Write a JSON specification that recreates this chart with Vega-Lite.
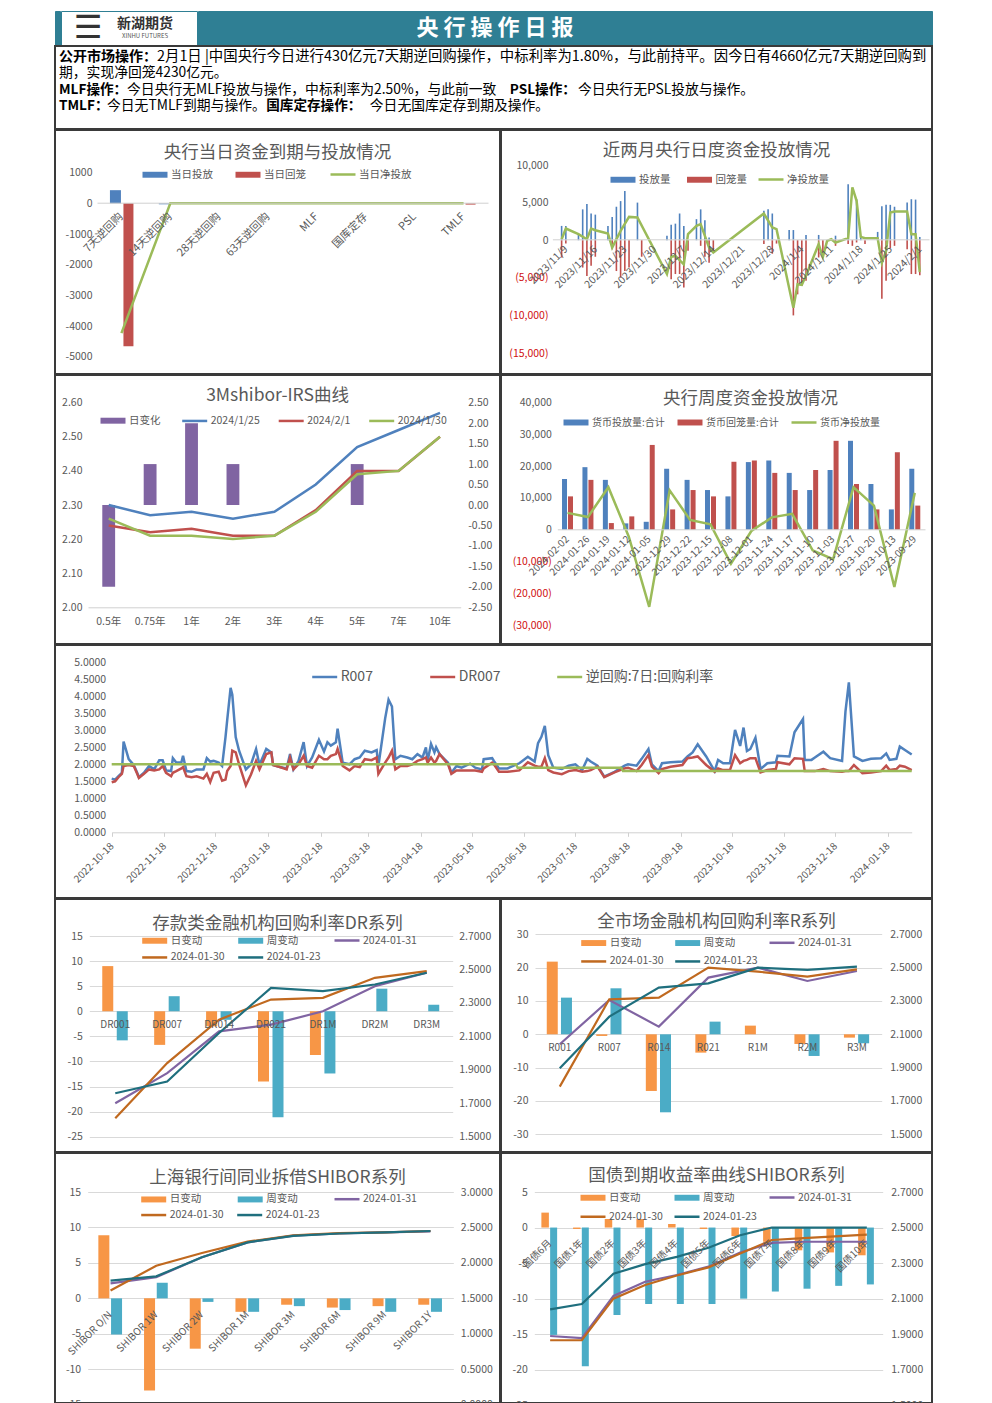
{"$schema":"https://vega.github.io/schema/vega-lite/v6.json","padding":{"left":54,"top":10,"right":0,"bottom":0},"spacing":-3,"resolve":{"scale":{"fill":"independent","stroke":"independent","color":"independent"},"legend":{"fill":"independent","stroke":"independent","color":"independent"}},"config":{"font":"Noto Sans CJK SC","view":{"stroke":"#3a3a3a","strokeWidth":2},"axis":{"grid":false,"ticks":false,"domain":false,"labelColor":"#595959","labelFontSize":10,"labelOverlap":false,"labelBound":false,"labelFlush":false,"gridColor":"#D9D9D9","domainColor":"#D0D0D0"},"legend":{"padding":0,"labelColor":"#595959","labelFontSize":10.5,"labelOffset":6,"symbolSize":289,"symbolStrokeWidth":2.5,"orient":"none","direction":"horizontal","title":null,"labelLimit":300},"title":{"fontWeight":"normal","color":"#595959","fontSize":17.5,"anchor":"middle","frame":"group","baseline":"middle"}},
"vconcat":[
{"hconcat":[
{"width":5,"height":34,"view":{"fill":"#2F7F94","stroke":"#2F7F94"},"data":{"values":[{"t":" "}]},"mark":{"type":"text"},"encoding":{"text":{"field":"t"}}},
{"width":136,"height":34,"view":{"fill":"#FFFFFF","stroke":"#2F7F94"},"data":{"values":[{"a":"新湖期货","b":"XINHU FUTURES","c":"☰"}]},"layer":[
{"mark":{"type":"text","fontSize":14,"fontWeight":"bold","color":"#333333","dx":16,"dy":-4},"encoding":{"text":{"field":"a"}}},
{"mark":{"type":"text","fontSize":6,"color":"#555555","dx":16,"dy":8},"encoding":{"text":{"field":"b"}}},
{"mark":{"type":"text","fontSize":32,"font":"DejaVu Sans","color":"#333333","dx":-41,"dy":0},"encoding":{"text":{"field":"c"}}}]},
{"width":734,"height":34,"view":{"fill":"#2F7F94","stroke":"#2F7F94"},"data":{"values":[{"t":"央 行 操 作 日 报"}]},"mark":{"type":"text","fontSize":22,"fontWeight":"bold","color":"#FFFFFF","dx":-70},"encoding":{"text":{"field":"t"}}}
],"spacing":-3},
{"width":877,"height":83,"encoding":{"x":{"field":"em","type":"quantitative","scale":{"domain":[0,62],"range":[4,872],"nice":false,"zero":false},"axis":null},"y":{"field":"line","type":"ordinal","scale":{"type":"point","domain":[1,2,3,4],"range":[11,60],"padding":0},"axis":null},"text":{"field":"t"}},
"layer":[
{"data":{"values":[{"line":1,"em":0,"t":"公开市场操作\uff1a"}]},"mark":{"type":"text","align":"left","fontSize":14,"fontWeight":"bold","color":"#000000"}},
{"data":{"values":[{"line":1,"em":7,"t":"2月1日 |中国央行今日进行430亿元7天期逆回购操作\uff0c中标利率为1.80%\uff0c与此前持平。因今日有4660亿元7天期逆回购到"}]},"mark":{"type":"text","align":"left","fontSize":14.4,"color":"#000000"}},
{"data":{"values":[{"line":3,"em":0,"t":"MLF操作\uff1a"},{"line":3,"em":32.2,"t":"PSL操作\uff1a"},{"line":4,"em":0,"t":"TMLF\uff1a"},{"line":4,"em":14.8,"t":"国库定存操作\uff1a"}]},"mark":{"type":"text","align":"left","fontSize":13.6,"fontWeight":"bold","color":"#000000"}},
{"data":{"values":[{"line":2,"em":0,"t":"期\uff0c实现净回笼4230亿元。"},{"line":3,"em":4.86,"t":"今日央行无MLF投放与操作\uff0c中标利率为2.50%\uff0c与此前一致"},{"line":3,"em":37.07,"t":"今日央行无PSL投放与操作。"},{"line":4,"em":3.43,"t":"今日无TMLF到期与操作。"},{"line":4,"em":22.2,"t":"今日无国库定存到期及操作。"}]},"mark":{"type":"text","align":"left","fontSize":13.8,"color":"#000000"}}
]},
{"hconcat":[
{"width":445,"height":244,"title":{"text":"央行当日资金到期与投放情况","offset":-31},
"data":{"values":[{"c":"7天逆回购","当日投放":430,"当日回笼":-4660,"当日净投放":-4230},{"c":"14天逆回购","当日投放":-30,"当日回笼":0,"当日净投放":0},{"c":"28天逆回购","当日投放":0,"当日回笼":0,"当日净投放":0},{"c":"63天逆回购","当日投放":0,"当日回笼":0,"当日净投放":0},{"c":"MLF","当日投放":0,"当日回笼":0,"当日净投放":0},{"c":"国库定存","当日投放":0,"当日回笼":0,"当日净投放":0},{"c":"PSL","当日投放":0,"当日回笼":0,"当日净投放":0},{"c":"TMLF","当日投放":0,"当日回笼":-40,"当日净投放":0}]},
"encoding":{"x":{"field":"c","type":"nominal","sort":null,"scale":{"type":"band","domain":["7天逆回购","14天逆回购","28天逆回购","63天逆回购","MLF","国库定存","PSL","TMLF"],"range":[42,433],"paddingInner":0.5,"paddingOuter":0.25},"axis":{"title":null,"orient":"bottom","offset":-171.3,"domain":true,"labelAngle":-45,"labelAlign":"right","labelBaseline":"middle","labelPadding":12,"zindex":1,"labelFontSize":11}},"y":{"field":"value","type":"quantitative","stack":null,"scale":{"domain":[-5000,1000],"range":[226.7,42.7],"nice":false},"axis":{"title":null,"orient":"left","offset":-42,"labelPadding":5,"values":[1000,0,-1000,-2000,-3000,-4000,-5000],"labelExpr":"toString(datum.value)","labelFontSize":10.5}}},
"layer":[
{"transform":[{"fold":["当日投放"]}],"mark":{"type":"bar","width":11,"xOffset":-6},"encoding":{"fill":{"field":"key","type":"nominal","scale":{"domain":["当日投放","当日回笼"],"range":["#4F81BD","#C0504D"]},"legend":{"legendX":90,"legendY":34.5,"columnPadding":22,"symbolType":"M-1.47,-.35H1.47V.35H-1.47Z"}}}},
{"transform":[{"fold":["当日回笼"]}],"mark":{"type":"bar","width":10,"xOffset":7},"encoding":{"fill":{"field":"key","type":"nominal","scale":{"domain":["当日投放","当日回笼"],"range":["#4F81BD","#C0504D"]},"legend":{"legendX":90,"legendY":34.5,"columnPadding":22,"symbolType":"M-1.47,-.35H1.47V.35H-1.47Z"}}}},
{"transform":[{"fold":["当日净投放"]}],"mark":{"type":"line","strokeWidth":2.5},"encoding":{"stroke":{"field":"key","type":"nominal","scale":{"domain":["当日净投放"],"range":["#9BBB59"]},"legend":{"legendX":278,"legendY":34.5,"symbolType":"M-1.47,0H1.47"}}}}
]},
{"width":431,"height":244,"title":{"text":"近两月央行日度资金投放情况","offset":-29},
"encoding":{"x":{"field":"d","type":"temporal","scale":{"type":"utc","domain":[{"year":2023,"month":11,"date":7,"utc":true},{"year":2024,"month":2,"date":2,"utc":true}],"range":[51.4,428],"nice":false},"axis":{"title":null,"orient":"bottom","offset":-134.7,"domain":true,"format":"%Y/%-m/%-d","labelAngle":-45,"labelAlign":"right","labelBaseline":"middle","labelPadding":8,"zindex":1,"labelFontSize":10.5,"values":[{"year":2023,"month":11,"date":9,"utc":true},{"year":2023,"month":11,"date":16,"utc":true},{"year":2023,"month":11,"date":23,"utc":true},{"year":2023,"month":11,"date":30,"utc":true},{"year":2023,"month":12,"date":7,"utc":true},{"year":2023,"month":12,"date":14,"utc":true},{"year":2023,"month":12,"date":21,"utc":true},{"year":2023,"month":12,"date":28,"utc":true},{"year":2024,"month":1,"date":4,"utc":true},{"year":2024,"month":1,"date":11,"utc":true},{"year":2024,"month":1,"date":18,"utc":true},{"year":2024,"month":1,"date":25,"utc":true},{"year":2024,"month":2,"date":1,"utc":true}]}}},
"layer":[
{"data":{"values":[{"d":"2023-11-08","s":"投放量","v":1900},{"d":"2023-11-09","s":"投放量","v":1900},{"d":"2023-11-12","s":"投放量","v":800},{"d":"2023-11-13","s":"投放量","v":4100},{"d":"2023-11-14","s":"投放量","v":4800},{"d":"2023-11-15","s":"投放量","v":3550},{"d":"2023-11-16","s":"投放量","v":3400},{"d":"2023-11-19","s":"投放量","v":1900},{"d":"2023-11-20","s":"投放量","v":3100},{"d":"2023-11-21","s":"投放量","v":4450},{"d":"2023-11-22","s":"投放量","v":5200},{"d":"2023-11-23","s":"投放量","v":6550},{"d":"2023-11-26","s":"投放量","v":5000},{"d":"2023-12-03","s":"投放量","v":580},{"d":"2023-12-04","s":"投放量","v":2050},{"d":"2023-12-05","s":"投放量","v":2200},{"d":"2023-12-06","s":"投放量","v":3550},{"d":"2023-12-07","s":"投放量","v":1900},{"d":"2023-12-10","s":"投放量","v":2800},{"d":"2023-12-11","s":"投放量","v":4100},{"d":"2023-12-12","s":"投放量","v":2650},{"d":"2023-12-13","s":"投放量","v":360},{"d":"2023-12-26","s":"投放量","v":3900},{"d":"2023-12-27","s":"投放量","v":4100},{"d":"2023-12-28","s":"投放量","v":3550},{"d":"2024-01-01","s":"投放量","v":1350},{"d":"2024-01-02","s":"投放量","v":1350},{"d":"2024-01-05","s":"投放量","v":700},{"d":"2024-01-08","s":"投放量","v":700},{"d":"2024-01-12","s":"投放量","v":600},{"d":"2024-01-15","s":"投放量","v":7450},{"d":"2024-01-17","s":"投放量","v":5450},{"d":"2024-01-18","s":"投放量","v":350},{"d":"2024-01-22","s":"投放量","v":1100},{"d":"2024-01-23","s":"投放量","v":4500},{"d":"2024-01-24","s":"投放量","v":4700},{"d":"2024-01-25","s":"投放量","v":4700},{"d":"2024-01-26","s":"投放量","v":4450},{"d":"2024-01-29","s":"投放量","v":5000},{"d":"2024-01-30","s":"投放量","v":5450},{"d":"2024-01-31","s":"投放量","v":5400},{"d":"2024-02-01","s":"投放量","v":430},
{"d":"2023-11-08","s":"回笼量","v":-2300},{"d":"2023-11-09","s":"回笼量","v":-450},{"d":"2023-11-13","s":"回笼量","v":-3640},{"d":"2023-11-14","s":"回笼量","v":-4750},{"d":"2023-11-15","s":"回笼量","v":-3400},{"d":"2023-11-16","s":"回笼量","v":-2200},{"d":"2023-11-20","s":"回笼量","v":-1200},{"d":"2023-11-21","s":"回笼量","v":-4100},{"d":"2023-11-22","s":"回笼量","v":-4970},{"d":"2023-11-23","s":"回笼量","v":-4100},{"d":"2023-11-24","s":"回笼量","v":-3640},{"d":"2023-11-27","s":"回笼量","v":-2200},{"d":"2023-12-04","s":"回笼量","v":-5200},{"d":"2023-12-05","s":"回笼量","v":-4500},{"d":"2023-12-06","s":"回笼量","v":-4500},{"d":"2023-12-07","s":"回笼量","v":-6300},{"d":"2023-12-08","s":"回笼量","v":-1400},{"d":"2023-12-11","s":"回笼量","v":-750},{"d":"2023-12-12","s":"回笼量","v":-2200},{"d":"2023-12-13","s":"回笼量","v":-3000},{"d":"2023-12-14","s":"回笼量","v":-1650},{"d":"2023-12-26","s":"回笼量","v":-500},{"d":"2023-12-28","s":"回笼量","v":-1800},{"d":"2023-12-29","s":"回笼量","v":-450},{"d":"2024-01-02","s":"回笼量","v":-10000},{"d":"2024-01-03","s":"回笼量","v":-7200},{"d":"2024-01-04","s":"回笼量","v":-6100},{"d":"2024-01-05","s":"回笼量","v":-5400},{"d":"2024-01-08","s":"回笼量","v":-2300},{"d":"2024-01-09","s":"回笼量","v":-2300},{"d":"2024-01-12","s":"回笼量","v":-750},{"d":"2024-01-15","s":"回笼量","v":-500},{"d":"2024-01-16","s":"回笼量","v":-750},{"d":"2024-01-17","s":"回笼量","v":-300},{"d":"2024-01-19","s":"回笼量","v":-500},{"d":"2024-01-23","s":"回笼量","v":-7800},{"d":"2024-01-24","s":"回笼量","v":-5400},{"d":"2024-01-25","s":"回笼量","v":-1050},{"d":"2024-01-26","s":"回笼量","v":-750},{"d":"2024-01-29","s":"回笼量","v":-1200},{"d":"2024-01-30","s":"回笼量","v":-4500},{"d":"2024-01-31","s":"回笼量","v":-4500},{"d":"2024-02-01","s":"回笼量","v":-4660}]},
"mark":{"type":"bar","size":1.6},"encoding":{"y":{"field":"v","type":"quantitative","stack":null,"scale":{"domain":[-15000,10000],"range":[223,35],"nice":false},"axis":{"title":null,"orient":"left","offset":-52,"labelPadding":5,"values":[10000,5000,0,-5000,-10000,-15000],"labelExpr":"datum.value<0?'('+format(-datum.value,',')+')':format(datum.value,',')","labelColor":{"condition":{"test":"datum.value<0","value":"#D01010"},"value":"#595959"},"labelFontSize":10.5}},"fill":{"field":"s","type":"nominal","scale":{"domain":["投放量","回笼量"],"range":["#4F81BD","#C0504D"]},"legend":{"legendX":112,"legendY":39.5,"columnPadding":15.5,"symbolType":"M-1.47,-.35H1.47V.35H-1.47Z"}}}},
{"data":{"values":[{"d":"2023-11-08","s":"净投放量","v":130},{"d":"2023-11-09","s":"净投放量","v":1550},{"d":"2023-11-12","s":"净投放量","v":800},{"d":"2023-11-14","s":"净投放量","v":130},{"d":"2023-11-15","s":"净投放量","v":1550},{"d":"2023-11-16","s":"净投放量","v":1330},{"d":"2023-11-19","s":"净投放量","v":890},{"d":"2023-11-20","s":"净投放量","v":-980},{"d":"2023-11-22","s":"净投放量","v":1240},{"d":"2023-11-24","s":"净投放量","v":3100},{"d":"2023-11-26","s":"净投放量","v":3020},{"d":"2023-12-03","s":"净投放量","v":-4500},{"d":"2023-12-04","s":"净投放量","v":-2220},{"d":"2023-12-05","s":"净投放量","v":-2090},{"d":"2023-12-07","s":"净投放量","v":-3200},{"d":"2023-12-08","s":"净投放量","v":800},{"d":"2023-12-10","s":"净投放量","v":1900},{"d":"2023-12-11","s":"净投放量","v":2130},{"d":"2023-12-13","s":"净投放量","v":-980},{"d":"2023-12-14","s":"净投放量","v":-1650},{"d":"2023-12-26","s":"净投放量","v":3550},{"d":"2023-12-28","s":"净投放量","v":1690},{"d":"2023-12-29","s":"净投放量","v":1470},{"d":"2024-01-02","s":"净投放量","v":-8970},{"d":"2024-01-03","s":"净投放量","v":-5860},{"d":"2024-01-04","s":"净投放量","v":-5950},{"d":"2024-01-05","s":"净投放量","v":-4700},{"d":"2024-01-08","s":"净投放量","v":-530},{"d":"2024-01-09","s":"净投放量","v":-2220},{"d":"2024-01-10","s":"净投放量","v":-90},{"d":"2024-01-11","s":"净投放量","v":130},{"d":"2024-01-12","s":"净投放量","v":-310},{"d":"2024-01-15","s":"净投放量","v":270},{"d":"2024-01-16","s":"净投放量","v":7020},{"d":"2024-01-17","s":"净投放量","v":5240},{"d":"2024-01-18","s":"净投放量","v":440},{"d":"2024-01-19","s":"净投放量","v":270},{"d":"2024-01-22","s":"净投放量","v":270},{"d":"2024-01-23","s":"净投放量","v":-3000},{"d":"2024-01-24","s":"净投放量","v":-1420},{"d":"2024-01-25","s":"净投放量","v":3680},{"d":"2024-01-26","s":"净投放量","v":3820},{"d":"2024-01-29","s":"净投放量","v":3820},{"d":"2024-01-30","s":"净投放量","v":800},{"d":"2024-01-31","s":"净投放量","v":800},{"d":"2024-02-01","s":"净投放量","v":-4230}]},
"mark":{"type":"line","strokeWidth":2.5},"encoding":{"y":{"field":"v","type":"quantitative","scale":{"domain":[-15000,10000],"range":[223,35],"nice":false}},"stroke":{"field":"s","type":"nominal","scale":{"domain":["净投放量"],"range":["#9BBB59"]},"legend":{"legendX":260,"legendY":39.5,"symbolType":"M-1.47,0H1.47"}}}}
]}
],"spacing":-3,"resolve":{"scale":{"fill":"independent","stroke":"independent","color":"independent"},"legend":{"fill":"independent","stroke":"independent","color":"independent"}}},
{"hconcat":[
{"width":445,"height":269,"title":{"text":"3Mshibor-IRS曲线","offset":-29.5},"resolve":{"scale":{"y":"independent"}},
"data":{"values":[{"c":"0.5年","日变化":-2,"2024/1/25":2.30,"2024/2/1":2.24,"2024/1/30":2.26},{"c":"0.75年","日变化":1,"2024/1/25":2.27,"2024/2/1":2.22,"2024/1/30":2.21},{"c":"1年","日变化":2,"2024/1/25":2.28,"2024/2/1":2.23,"2024/1/30":2.21},{"c":"2年","日变化":1,"2024/1/25":2.26,"2024/2/1":2.21,"2024/1/30":2.20},{"c":"3年","日变化":0,"2024/1/25":2.28,"2024/2/1":2.21,"2024/1/30":2.21},{"c":"4年","日变化":0,"2024/1/25":2.36,"2024/2/1":2.285,"2024/1/30":2.28},{"c":"5年","日变化":1,"2024/1/25":2.47,"2024/2/1":2.40,"2024/1/30":2.39},{"c":"7年","日变化":0,"2024/1/25":2.52,"2024/2/1":2.40,"2024/1/30":2.40},{"c":"10年","日变化":0,"2024/1/25":2.57,"2024/2/1":2.50,"2024/1/30":2.50}]},
"encoding":{"x":{"field":"c","type":"nominal","sort":null,"scale":{"type":"band","domain":["0.5年","0.75年","1年","2年","3年","4年","5年","7年","10年"],"range":[33,405.7],"paddingInner":0.69,"paddingOuter":0.345},"axis":{"title":null,"orient":"bottom","offset":-36.7,"domain":true,"labelAngle":0,"labelPadding":9,"labelFontSize":10.5}}},
"layer":[
{"transform":[{"fold":["日变化"]}],"mark":{"type":"bar"},"encoding":{"y":{"field":"value","type":"quantitative","stack":null,"scale":{"domain":[-2.5,2.5],"range":[232.3,27.7],"nice":false},"axis":{"title":null,"orient":"right","offset":-39.3,"labelPadding":7,"values":[2.5,2,1.5,1,0.5,0,-0.5,-1,-1.5,-2,-2.5],"labelExpr":"replace(format(datum.value,'.2f'),'−','-')","labelFontSize":10.5}},"fill":{"field":"key","type":"nominal","scale":{"domain":["日变化"],"range":["#8064A2"]},"legend":{"legendX":48,"legendY":35.7,"symbolType":"M-1.47,-.35H1.47V.35H-1.47Z"}}}},
{"transform":[{"fold":["2024/1/25","2024/2/1","2024/1/30"]}],"mark":{"type":"line","strokeWidth":2.5},"encoding":{"y":{"field":"value","type":"quantitative","scale":{"domain":[2,2.6],"range":[232.3,27.7],"nice":false,"zero":false},"axis":{"title":null,"orient":"left","offset":-33,"labelPadding":6,"values":[2.6,2.5,2.4,2.3,2.2,2.1,2.0],"format":".2f","labelFontSize":10.5}},"stroke":{"field":"key","type":"nominal","scale":{"domain":["2024/1/25","2024/2/1","2024/1/30"],"range":["#4F81BD","#C0504D","#9BBB59"]},"legend":{"legendX":129.7,"legendY":35.7,"columnPadding":12.5,"symbolType":"M-1.47,0H1.47"}}}}
]},
{"width":431,"height":269,"title":{"text":"央行周度资金投放情况","offset":-32,"dx":34},
"data":{"values":[{"c":"2024-02-02","货币投放量:合计":16000,"货币回笼量:合计":10500,"货币净投放量":5300},{"c":"2024-01-26","货币投放量:合计":19700,"货币回笼量:合计":15700,"货币净投放量":4000},{"c":"2024-01-19","货币投放量:合计":15700,"货币回笼量:合计":2100,"货币净投放量":13400},{"c":"2024-01-12","货币投放量:合计":2000,"货币回笼量:合计":4200,"货币净投放量":-2200},{"c":"2024-01-05","货币投放量:合计":2500,"货币回笼量:合计":26700,"货币净投放量":-24300},{"c":"2023-12-29","货币投放量:合计":19200,"货币回笼量:合计":6400,"货币净投放量":12400},{"c":"2023-12-22","货币投放量:合计":15700,"货币回笼量:合计":12500,"货币净投放量":3100},{"c":"2023-12-15","货币投放量:合计":12500,"货币回笼量:合计":10500,"货币净投放量":1700},{"c":"2023-12-08","货币投放量:合计":10500,"货币回笼量:合计":21400,"货币净投放量":-10700},{"c":"2023-12-01","货币投放量:合计":21300,"货币回笼量:合计":21800,"货币净投放量":-400},{"c":"2023-11-24","货币投放量:合计":21800,"货币回笼量:合计":17900,"货币净投放量":3900},{"c":"2023-11-17","货币投放量:合计":17900,"货币回笼量:合计":12500,"货币净投放量":5000},{"c":"2023-11-10","货币投放量:合计":12500,"货币回笼量:合计":18800,"货币净投放量":-6500},{"c":"2023-11-03","货币投放量:合计":18800,"货币回笼量:合计":28000,"货币净投放量":-9300},{"c":"2023-10-27","货币投放量:合计":28000,"货币回笼量:合计":14400,"货币净投放量":13400},{"c":"2023-10-20","货币投放量:合计":14400,"货币回笼量:合计":6400,"货币净投放量":7600},{"c":"2023-10-13","货币投放量:合计":6400,"货币回笼量:合计":24400,"货币净投放量":-18000},{"c":"2023-09-29","货币投放量:合计":19200,"货币回笼量:合计":7600,"货币净投放量":11600}]},
"encoding":{"x":{"field":"c","type":"nominal","sort":null,"scale":{"type":"band","domain":["2024-02-02","2024-01-26","2024-01-19","2024-01-12","2024-01-05","2023-12-29","2023-12-22","2023-12-15","2023-12-08","2023-12-01","2023-11-24","2023-11-17","2023-11-10","2023-11-03","2023-10-27","2023-10-20","2023-10-13","2023-09-29"],"range":[56.3,424],"paddingInner":0.46,"paddingOuter":0.23},"axis":{"title":null,"orient":"bottom","offset":-114.7,"domain":true,"labelAngle":-45,"labelAlign":"right","labelBaseline":"middle","labelPadding":8,"zindex":1,"labelFontSize":10}},"y":{"field":"value","type":"quantitative","stack":null,"scale":{"domain":[-30000,40000],"range":[250,27.7],"nice":false},"axis":{"title":null,"orient":"left","offset":-56.3,"labelPadding":6,"values":[40000,30000,20000,10000,0,-10000,-20000,-30000],"labelExpr":"datum.value<0?'('+format(-datum.value,',')+')':format(datum.value,',')","labelColor":{"condition":{"test":"datum.value<0","value":"#D01010"},"value":"#595959"},"labelFontSize":10.5}}},
"layer":[
{"transform":[{"fold":["货币投放量:合计"]}],"mark":{"type":"bar","width":5,"xOffset":-3},"encoding":{"fill":{"field":"key","type":"nominal","scale":{"domain":["货币投放量:合计","货币回笼量:合计"],"range":["#4F81BD","#C0504D"]},"legend":{"legendX":65,"legendY":37.5,"columnPadding":12,"labelFontSize":10,"symbolType":"M-1.47,-.35H1.47V.35H-1.47Z"}}}},
{"transform":[{"fold":["货币回笼量:合计"]}],"mark":{"type":"bar","width":5,"xOffset":3},"encoding":{"fill":{"field":"key","type":"nominal","scale":{"domain":["货币投放量:合计","货币回笼量:合计"],"range":["#4F81BD","#C0504D"]},"legend":{"legendX":65,"legendY":37.5,"columnPadding":12,"labelFontSize":10,"symbolType":"M-1.47,-.35H1.47V.35H-1.47Z"}}}},
{"transform":[{"fold":["货币净投放量"]}],"mark":{"type":"line","strokeWidth":2.5},"encoding":{"stroke":{"field":"key","type":"nominal","scale":{"domain":["货币净投放量"],"range":["#9BBB59"]},"legend":{"legendX":293,"legendY":37.5,"labelFontSize":10,"symbolType":"M-1.47,0H1.47"}}}}
]}
],"spacing":-3,"resolve":{"scale":{"fill":"independent","stroke":"independent","color":"independent"},"legend":{"fill":"independent","stroke":"independent","color":"independent"}}},
{"width":877,"height":253,
"encoding":{"x":{"field":"d","type":"temporal","scale":{"type":"utc","domain":[{"year":2022,"month":10,"date":18,"utc":true},{"year":2024,"month":2,"date":1,"utc":true}],"range":[56.7,856.7],"nice":false},"axis":{"title":null,"orient":"bottom","offset":-65.7,"domain":true,"ticks":true,"tickColor":"#D0D0D0","tickSize":4,"format":"%Y-%m-%d","labelAngle":-45,"labelAlign":"right","labelBaseline":"middle","labelPadding":8,"labelFontSize":10,"values":[{"year":2022,"month":10,"date":18,"utc":true},{"year":2022,"month":11,"date":18,"utc":true},{"year":2022,"month":12,"date":18,"utc":true},{"year":2023,"month":1,"date":18,"utc":true},{"year":2023,"month":2,"date":18,"utc":true},{"year":2023,"month":3,"date":18,"utc":true},{"year":2023,"month":4,"date":18,"utc":true},{"year":2023,"month":5,"date":18,"utc":true},{"year":2023,"month":6,"date":18,"utc":true},{"year":2023,"month":7,"date":18,"utc":true},{"year":2023,"month":8,"date":18,"utc":true},{"year":2023,"month":9,"date":18,"utc":true},{"year":2023,"month":10,"date":18,"utc":true},{"year":2023,"month":11,"date":18,"utc":true},{"year":2023,"month":12,"date":18,"utc":true},{"year":2024,"month":1,"date":18,"utc":true}]}},"y":{"field":"value","type":"quantitative","scale":{"domain":[0,5],"range":[187.3,17.3],"nice":false},"axis":{"title":null,"orient":"left","offset":-56.7,"labelPadding":6,"values":[5,4.5,4,3.5,3,2.5,2,1.5,1,0.5,0],"format":".4f","labelFontSize":10.5}},"stroke":{"field":"key","type":"nominal","scale":{"domain":["R007","DR007","逆回购:7日:回购利率"],"range":["#4F81BD","#C0504D","#9BBB59"]},"legend":{"legendX":259.7,"legendY":22,"labelFontSize":14,"columnPadding":51,"symbolType":"M-1.47,0H1.47"}}},
"layer":[
{"data":{"values":[{"d":"2022-10-18","R007":1.58,"DR007":1.47},{"d":"2022-10-20","R007":1.55,"DR007":1.5},{"d":"2022-10-22","R007":1.65,"DR007":1.62},{"d":"2022-10-24","R007":1.75,"DR007":1.72},{"d":"2022-10-25","R007":2.67,"DR007":1.95},{"d":"2022-10-28","R007":2.15,"DR007":1.98},{"d":"2022-10-31","R007":1.98,"DR007":1.95},{"d":"2022-11-02","R007":1.75,"DR007":1.72},{"d":"2022-11-03","R007":1.62,"DR007":1.6},{"d":"2022-11-06","R007":1.75,"DR007":1.72},{"d":"2022-11-09","R007":1.95,"DR007":1.85},{"d":"2022-11-12","R007":1.85,"DR007":1.82},{"d":"2022-11-15","R007":2.12,"DR007":1.85},{"d":"2022-11-17","R007":2.12,"DR007":1.95},{"d":"2022-11-19","R007":1.82,"DR007":1.75},{"d":"2022-11-22","R007":1.8,"DR007":1.65},{"d":"2022-11-23","R007":2.18,"DR007":1.75},{"d":"2022-11-25","R007":2.05,"DR007":1.8},{"d":"2022-11-28","R007":2.05,"DR007":1.88},{"d":"2022-11-29","R007":2.25,"DR007":1.92},{"d":"2022-12-01","R007":1.8,"DR007":1.65},{"d":"2022-12-04","R007":1.78,"DR007":1.62},{"d":"2022-12-07","R007":1.85,"DR007":1.65},{"d":"2022-12-11","R007":1.85,"DR007":1.58},{"d":"2022-12-13","R007":2.18,"DR007":1.72},{"d":"2022-12-15","R007":2.08,"DR007":1.48},{"d":"2022-12-17","R007":2.1,"DR007":1.75},{"d":"2022-12-20","R007":2.05,"DR007":1.78},{"d":"2022-12-22","R007":1.95,"DR007":1.52},{"d":"2022-12-24","R007":2.8,"DR007":1.55},{"d":"2022-12-25","R007":3.3,"DR007":1.8},{"d":"2022-12-27","R007":4.25,"DR007":1.95},{"d":"2022-12-28","R007":4.05,"DR007":2.4},{"d":"2022-12-30","R007":2.8,"DR007":2.35},{"d":"2023-01-01","R007":2.4,"DR007":2.0},{"d":"2023-01-05","R007":1.85,"DR007":1.38},{"d":"2023-01-08","R007":2.0,"DR007":1.7},{"d":"2023-01-11","R007":2.45,"DR007":2.1},{"d":"2023-01-13","R007":1.98,"DR007":1.85},{"d":"2023-01-17","R007":2.45,"DR007":2.3},{"d":"2023-01-20","R007":2.35,"DR007":2.35},{"d":"2023-01-21","R007":1.98,"DR007":1.98},{"d":"2023-01-25","R007":1.92,"DR007":1.92},{"d":"2023-01-29","R007":1.88,"DR007":1.85},{"d":"2023-01-31","R007":2.3,"DR007":2.2},{"d":"2023-02-02","R007":1.85,"DR007":1.85},{"d":"2023-02-05","R007":2.1,"DR007":2.0},{"d":"2023-02-08","R007":2.65,"DR007":2.25},{"d":"2023-02-10","R007":1.95,"DR007":1.95},{"d":"2023-02-13","R007":2.2,"DR007":1.9},{"d":"2023-02-17","R007":2.72,"DR007":2.25},{"d":"2023-02-20","R007":2.38,"DR007":2.15},{"d":"2023-02-22","R007":2.65,"DR007":2.15},{"d":"2023-02-24","R007":2.55,"DR007":2.25},{"d":"2023-02-27","R007":2.65,"DR007":2.3},{"d":"2023-02-28","R007":3.05,"DR007":2.45},{"d":"2023-03-03","R007":2.05,"DR007":1.95},{"d":"2023-03-07","R007":2.0,"DR007":1.82},{"d":"2023-03-10","R007":2.15,"DR007":1.95},{"d":"2023-03-13","R007":2.2,"DR007":1.92},{"d":"2023-03-16","R007":2.4,"DR007":2.15},{"d":"2023-03-20","R007":2.35,"DR007":2.12},{"d":"2023-03-23","R007":2.42,"DR007":2.2},{"d":"2023-03-24","R007":1.95,"DR007":1.72},{"d":"2023-03-28","R007":3.35,"DR007":2.05},{"d":"2023-03-30","R007":3.9,"DR007":2.2},{"d":"2023-04-01","R007":3.7,"DR007":2.4},{"d":"2023-04-03","R007":2.15,"DR007":1.85},{"d":"2023-04-06","R007":2.25,"DR007":1.95},{"d":"2023-04-10","R007":2.2,"DR007":1.95},{"d":"2023-04-13","R007":2.15,"DR007":2.0},{"d":"2023-04-16","R007":2.3,"DR007":2.1},{"d":"2023-04-19","R007":2.2,"DR007":2.15},{"d":"2023-04-21","R007":2.5,"DR007":2.2},{"d":"2023-04-22","R007":2.1,"DR007":2.05},{"d":"2023-04-24","R007":2.6,"DR007":2.2},{"d":"2023-04-26","R007":2.35,"DR007":2.05},{"d":"2023-04-27","R007":2.5,"DR007":2.1},{"d":"2023-04-29","R007":2.3,"DR007":2.3},{"d":"2023-05-04","R007":2.05,"DR007":2.0},{"d":"2023-05-06","R007":1.75,"DR007":1.72},{"d":"2023-05-09","R007":1.95,"DR007":1.82},{"d":"2023-05-12","R007":1.9,"DR007":1.82},{"d":"2023-05-17","R007":2.02,"DR007":1.82},{"d":"2023-05-20","R007":1.9,"DR007":1.82},{"d":"2023-05-24","R007":1.85,"DR007":1.78},{"d":"2023-05-25","R007":2.15,"DR007":1.88},{"d":"2023-05-30","R007":2.18,"DR007":2.05},{"d":"2023-05-31","R007":2.1,"DR007":2.0},{"d":"2023-06-03","R007":1.88,"DR007":1.78},{"d":"2023-06-08","R007":1.88,"DR007":1.78},{"d":"2023-06-15","R007":2.03,"DR007":1.82},{"d":"2023-06-20","R007":2.22,"DR007":2.06},{"d":"2023-06-24","R007":2.08,"DR007":1.96},{"d":"2023-06-26","R007":2.62,"DR007":1.93},{"d":"2023-06-28","R007":2.81,"DR007":1.93},{"d":"2023-06-30","R007":3.13,"DR007":2.18},{"d":"2023-07-02","R007":2.27,"DR007":1.83},{"d":"2023-07-05","R007":1.9,"DR007":1.76},{"d":"2023-07-10","R007":1.86,"DR007":1.71},{"d":"2023-07-14","R007":1.96,"DR007":1.8},{"d":"2023-07-18","R007":2.0,"DR007":1.83},{"d":"2023-07-22","R007":1.83,"DR007":1.78},{"d":"2023-07-25","R007":2.16,"DR007":1.8},{"d":"2023-07-27","R007":2.08,"DR007":1.83},{"d":"2023-07-31","R007":1.96,"DR007":1.93},{"d":"2023-08-04","R007":1.64,"DR007":1.62},{"d":"2023-08-10","R007":1.78,"DR007":1.76},{"d":"2023-08-16","R007":1.96,"DR007":1.88},{"d":"2023-08-18","R007":2.0,"DR007":1.9},{"d":"2023-08-23","R007":1.96,"DR007":1.8},{"d":"2023-08-26","R007":2.16,"DR007":1.98},{"d":"2023-08-30","R007":2.45,"DR007":2.27},{"d":"2023-09-01","R007":2.0,"DR007":1.93},{"d":"2023-09-05","R007":1.8,"DR007":1.74},{"d":"2023-09-07","R007":2.03,"DR007":1.86},{"d":"2023-09-12","R007":2.06,"DR007":1.93},{"d":"2023-09-19","R007":2.08,"DR007":1.98},{"d":"2023-09-22","R007":2.23,"DR007":2.18},{"d":"2023-09-25","R007":2.35,"DR007":2.2},{"d":"2023-09-28","R007":2.59,"DR007":2.23},{"d":"2023-10-03","R007":2.23,"DR007":1.98},{"d":"2023-10-08","R007":1.8,"DR007":1.78},{"d":"2023-10-10","R007":2.13,"DR007":1.88},{"d":"2023-10-13","R007":2.03,"DR007":1.83},{"d":"2023-10-17","R007":2.03,"DR007":1.83},{"d":"2023-10-20","R007":3.01,"DR007":2.27},{"d":"2023-10-23","R007":2.54,"DR007":2.03},{"d":"2023-10-25","R007":3.08,"DR007":2.1},{"d":"2023-10-27","R007":2.39,"DR007":2.13},{"d":"2023-10-29","R007":2.45,"DR007":2.18},{"d":"2023-11-01","R007":2.78,"DR007":2.18},{"d":"2023-11-04","R007":1.86,"DR007":1.76},{"d":"2023-11-08","R007":2.03,"DR007":1.83},{"d":"2023-11-13","R007":2.06,"DR007":1.86},{"d":"2023-11-14","R007":2.25,"DR007":2.06},{"d":"2023-11-21","R007":2.23,"DR007":2.0},{"d":"2023-11-24","R007":2.94,"DR007":2.18},{"d":"2023-11-29","R007":3.33,"DR007":2.16},{"d":"2023-11-30","R007":2.13,"DR007":1.8},{"d":"2023-12-04","R007":2.13,"DR007":1.8},{"d":"2023-12-06","R007":2.2,"DR007":1.8},{"d":"2023-12-11","R007":2.37,"DR007":1.86},{"d":"2023-12-15","R007":2.18,"DR007":1.8},{"d":"2023-12-22","R007":2.1,"DR007":1.78},{"d":"2023-12-24","R007":3.55,"DR007":1.8},{"d":"2023-12-26","R007":4.41,"DR007":1.8},{"d":"2023-12-29","R007":2.23,"DR007":1.98},{"d":"2024-01-03","R007":2.1,"DR007":1.74},{"d":"2024-01-08","R007":2.16,"DR007":1.76},{"d":"2024-01-14","R007":2.18,"DR007":1.8},{"d":"2024-01-17","R007":2.32,"DR007":1.96},{"d":"2024-01-19","R007":2.13,"DR007":1.83},{"d":"2024-01-23","R007":2.16,"DR007":1.86},{"d":"2024-01-25","R007":2.52,"DR007":1.96},{"d":"2024-01-28","R007":2.42,"DR007":1.93},{"d":"2024-02-01","R007":2.29,"DR007":1.83}]},"transform":[{"fold":["R007","DR007"]}],"mark":{"type":"line","strokeWidth":2.5}},
{"data":{"values":[{"d":"2022-10-18","key":"逆回购:7日:回购利率","value":2.0},{"d":"2023-06-13","key":"逆回购:7日:回购利率","value":2.0},{"d":"2023-06-14","key":"逆回购:7日:回购利率","value":1.9},{"d":"2023-08-14","key":"逆回购:7日:回购利率","value":1.9},{"d":"2023-08-15","key":"逆回购:7日:回购利率","value":1.8},{"d":"2024-02-01","key":"逆回购:7日:回购利率","value":1.8}]},"mark":{"type":"line","strokeWidth":2.5}}
]},
{"hconcat":[
{"width":445,"height":253,"title":{"text":"存款类金融机构回购利率DR系列","offset":-33},"resolve":{"scale":{"y":"independent"}},
"data":{"values":[{"c":"DR001","日变动":9,"周变动":-5.8,"2024-01-31":1.70,"2024-01-30":1.61,"2024-01-23":1.76},{"c":"DR007","日变动":-6.7,"周变动":3.0,"2024-01-31":1.88,"2024-01-30":1.94,"2024-01-23":1.83},{"c":"DR014","日变动":-3,"周变动":-1.7,"2024-01-31":2.13,"2024-01-30":2.20,"2024-01-23":2.12},{"c":"DR021","日变动":-14,"周变动":-21.1,"2024-01-31":2.17,"2024-01-30":2.32,"2024-01-23":2.39},{"c":"DR1M","日变动":-8.7,"周变动":-12.4,"2024-01-31":2.25,"2024-01-30":2.33,"2024-01-23":2.37},{"c":"DR2M","日变动":0,"周变动":4.5,"2024-01-31":2.40,"2024-01-30":2.45,"2024-01-23":2.41},{"c":"DR3M","日变动":0,"周变动":1.3,"2024-01-31":2.48,"2024-01-30":2.49,"2024-01-23":2.48}]},
"encoding":{"x":{"field":"c","type":"nominal","sort":null,"scale":{"type":"band","domain":["DR001","DR007","DR014","DR021","DR1M","DR2M","DR3M"],"range":[34.3,397.7],"paddingInner":0.52,"paddingOuter":0.26},"axis":{"title":null,"orient":"bottom","offset":-140.3,"labelAngle":0,"labelPadding":8,"zindex":1,"labelFontSize":10}}},
"layer":[
{"transform":[{"fold":["日变动"]}],"mark":{"type":"bar","width":11,"xOffset":-7.5},"encoding":{"y":{"field":"value","type":"quantitative","stack":null,"scale":{"domain":[-25,15],"range":[237.7,37],"nice":false},"axis":{"title":null,"orient":"left","offset":-34.3,"labelPadding":7,"grid":true,"values":[15,10,5,0,-5,-10,-15,-20,-25],"labelExpr":"toString(datum.value)","labelFontSize":10.5}},"fill":{"field":"key","type":"nominal","scale":{"domain":["日变动","周变动"],"range":["#F79646","#4BACC6"]},"legend":{"legendX":89.7,"legendY":31.5,"columnPadding":35,"symbolType":"M-1.47,-.35H1.47V.35H-1.47Z"}}}},
{"transform":[{"fold":["周变动"]}],"mark":{"type":"bar","width":11,"xOffset":7},"encoding":{"y":{"field":"value","type":"quantitative","stack":null,"scale":{"domain":[-25,15],"range":[237.7,37],"nice":false},"axis":null},"fill":{"field":"key","type":"nominal","scale":{"domain":["日变动","周变动"],"range":["#F79646","#4BACC6"]},"legend":{"legendX":89.7,"legendY":31.5,"columnPadding":35,"symbolType":"M-1.47,-.35H1.47V.35H-1.47Z"}}}},
{"transform":[{"fold":["2024-01-31"]}],"mark":{"type":"line","strokeWidth":2.2},"encoding":{"y":{"field":"value","type":"quantitative","scale":{"domain":[1.5,2.7],"range":[237.7,37],"nice":false,"zero":false},"axis":{"title":null,"orient":"right","offset":-47.3,"labelPadding":6,"values":[2.7,2.5,2.3,2.1,1.9,1.7,1.5],"format":".4f","labelFontSize":10.5}},"color":{"field":"key","type":"nominal","scale":{"domain":["2024-01-31"],"range":["#8064A2"]},"legend":{"legendX":282,"legendY":31.5,"symbolType":"M-1.47,0H1.47"}}}},
{"transform":[{"fold":["2024-01-30","2024-01-23"]}],"mark":{"type":"line","strokeWidth":2.2},"encoding":{"y":{"field":"value","type":"quantitative","scale":{"domain":[1.5,2.7],"range":[237.7,37],"nice":false,"zero":false},"axis":null},"stroke":{"field":"key","type":"nominal","scale":{"domain":["2024-01-30","2024-01-23"],"range":["#C0691F","#1F6F7E"]},"legend":{"legendX":89.7,"legendY":48.2,"columnPadding":8,"symbolType":"M-1.47,0H1.47"}}}}
]},
{"width":431,"height":253,"title":{"text":"全市场金融机构回购利率R系列","offset":-31.5},"resolve":{"scale":{"y":"independent"}},
"data":{"values":[{"c":"R001","日变动":21.8,"周变动":11,"2024-01-31":2.04,"2024-01-30":1.786,"2024-01-23":1.896},{"c":"R007","日变动":-0.5,"周变动":13.8,"2024-01-31":2.306,"2024-01-30":2.31,"2024-01-23":2.206},{"c":"R014","日变动":-17,"周变动":-23.4,"2024-01-31":2.146,"2024-01-30":2.32,"2024-01-23":2.38},{"c":"R021","日变动":-5.5,"周变动":3.8,"2024-01-31":2.44,"2024-01-30":2.50,"2024-01-23":2.406},{"c":"R1M","日变动":2.6,"周变动":0,"2024-01-31":2.50,"2024-01-30":2.476,"2024-01-23":2.50},{"c":"R2M","日变动":-2.9,"周变动":-6.5,"2024-01-31":2.42,"2024-01-30":2.446,"2024-01-23":2.486},{"c":"R3M","日变动":-1,"周变动":-2.7,"2024-01-31":2.48,"2024-01-30":2.49,"2024-01-23":2.506}]},
"encoding":{"x":{"field":"c","type":"nominal","sort":null,"scale":{"type":"band","domain":["R001","R007","R014","R021","R1M","R2M","R3M"],"range":[34,380.7],"paddingInner":0.47,"paddingOuter":0.235},"axis":{"title":null,"orient":"bottom","offset":-117.7,"labelAngle":0,"labelPadding":8,"zindex":1,"labelFontSize":10}}},
"layer":[
{"transform":[{"fold":["日变动"]}],"mark":{"type":"bar","width":11,"xOffset":-7.5},"encoding":{"y":{"field":"value","type":"quantitative","stack":null,"scale":{"domain":[-30,30],"range":[235.3,35.3],"nice":false},"axis":{"title":null,"orient":"left","offset":-34,"labelPadding":7,"grid":true,"values":[30,20,10,0,-10,-20,-30],"labelExpr":"toString(datum.value)","labelFontSize":10.5}},"fill":{"field":"key","type":"nominal","scale":{"domain":["日变动","周变动"],"range":["#F79646","#4BACC6"]},"legend":{"legendX":82.7,"legendY":33.8,"columnPadding":33,"symbolType":"M-1.47,-.35H1.47V.35H-1.47Z"}}}},
{"transform":[{"fold":["周变动"]}],"mark":{"type":"bar","width":11,"xOffset":6.7},"encoding":{"y":{"field":"value","type":"quantitative","stack":null,"scale":{"domain":[-30,30],"range":[235.3,35.3],"nice":false},"axis":null},"fill":{"field":"key","type":"nominal","scale":{"domain":["日变动","周变动"],"range":["#F79646","#4BACC6"]},"legend":{"legendX":82.7,"legendY":33.8,"columnPadding":33,"symbolType":"M-1.47,-.35H1.47V.35H-1.47Z"}}}},
{"transform":[{"fold":["2024-01-31"]}],"mark":{"type":"line","strokeWidth":2.2},"encoding":{"y":{"field":"value","type":"quantitative","scale":{"domain":[1.5,2.7],"range":[235.3,35.3],"nice":false,"zero":false},"axis":{"title":null,"orient":"right","offset":-50.3,"labelPadding":8,"values":[2.7,2.5,2.3,2.1,1.9,1.7,1.5],"format":".4f","labelFontSize":10.5}},"color":{"field":"key","type":"nominal","scale":{"domain":["2024-01-31"],"range":["#8064A2"]},"legend":{"legendX":271,"legendY":33.8,"symbolType":"M-1.47,0H1.47"}}}},
{"transform":[{"fold":["2024-01-30","2024-01-23"]}],"mark":{"type":"line","strokeWidth":2.2},"encoding":{"y":{"field":"value","type":"quantitative","scale":{"domain":[1.5,2.7],"range":[235.3,35.3],"nice":false,"zero":false},"axis":null},"stroke":{"field":"key","type":"nominal","scale":{"domain":["2024-01-30","2024-01-23"],"range":["#C0691F","#1F6F7E"]},"legend":{"legendX":82.7,"legendY":52.2,"columnPadding":6,"symbolType":"M-1.47,0H1.47"}}}}
]}
],"spacing":-3,"resolve":{"scale":{"fill":"independent","stroke":"independent","color":"independent"},"legend":{"fill":"independent","stroke":"independent","color":"independent"}}},
{"hconcat":[
{"width":445,"height":250,"title":{"text":"上海银行间同业拆借SHIBOR系列","offset":-33},"resolve":{"scale":{"y":"independent"}},
"data":{"values":[{"c":"SHIBOR O/N","日变动":8.9,"周变动":-5.1,"2024-01-31":1.71,"2024-01-30":1.61,"2024-01-23":1.75},{"c":"SHIBOR 1W","日变动":-13,"周变动":2.2,"2024-01-31":1.80,"2024-01-30":1.96,"2024-01-23":1.81},{"c":"SHIBOR 2W","日变动":-7.1,"周变动":-0.5,"2024-01-31":2.08,"2024-01-30":2.14,"2024-01-23":2.08},{"c":"SHIBOR 1M","日变动":-1.9,"周变动":-1.9,"2024-01-31":2.29,"2024-01-30":2.30,"2024-01-23":2.29},{"c":"SHIBOR 3M","日变动":-0.9,"周变动":-1.1,"2024-01-31":2.385,"2024-01-30":2.39,"2024-01-23":2.38},{"c":"SHIBOR 6M","日变动":-1.3,"周变动":-1.65,"2024-01-31":2.415,"2024-01-30":2.42,"2024-01-23":2.415},{"c":"SHIBOR 9M","日变动":-1.1,"周变动":-1.9,"2024-01-31":2.43,"2024-01-30":2.43,"2024-01-23":2.43},{"c":"SHIBOR 1Y","日变动":-0.9,"周变动":-1.9,"2024-01-31":2.445,"2024-01-30":2.45,"2024-01-23":2.45}]},
"encoding":{"x":{"field":"c","type":"nominal","sort":null,"scale":{"type":"band","domain":["SHIBOR O/N","SHIBOR 1W","SHIBOR 2W","SHIBOR 1M","SHIBOR 3M","SHIBOR 6M","SHIBOR 9M","SHIBOR 1Y"],"range":[32.7,398.3],"paddingInner":0.47,"paddingOuter":0.235},"axis":{"title":null,"orient":"bottom","offset":-104.3,"labelAngle":-45,"labelAlign":"right","labelBaseline":"middle","labelPadding":14,"zindex":1,"labelFontSize":10}}},
"layer":[
{"transform":[{"fold":["日变动"]}],"mark":{"type":"bar","width":11,"xOffset":-6.7},"encoding":{"y":{"field":"value","type":"quantitative","stack":null,"scale":{"domain":[-15,15],"range":[251.7,39],"nice":false},"axis":{"title":null,"orient":"left","offset":-32.7,"labelPadding":7,"grid":true,"values":[15,10,5,0,-5,-10,-15],"labelExpr":"toString(datum.value)","labelFontSize":10.5}},"fill":{"field":"key","type":"nominal","scale":{"domain":["日变动","周变动"],"range":["#F79646","#4BACC6"]},"legend":{"legendX":88.7,"legendY":36.2,"columnPadding":35.5,"symbolType":"M-1.47,-.35H1.47V.35H-1.47Z"}}}},
{"transform":[{"fold":["周变动"]}],"mark":{"type":"bar","width":11,"xOffset":6},"encoding":{"y":{"field":"value","type":"quantitative","stack":null,"scale":{"domain":[-15,15],"range":[251.7,39],"nice":false},"axis":null},"fill":{"field":"key","type":"nominal","scale":{"domain":["日变动","周变动"],"range":["#F79646","#4BACC6"]},"legend":{"legendX":88.7,"legendY":36.2,"columnPadding":35.5,"symbolType":"M-1.47,-.35H1.47V.35H-1.47Z"}}}},
{"transform":[{"fold":["2024-01-31"]}],"mark":{"type":"line","strokeWidth":2.2},"encoding":{"y":{"field":"value","type":"quantitative","scale":{"domain":[0,3],"range":[251.7,39],"nice":false},"axis":{"title":null,"orient":"right","offset":-46.7,"labelPadding":7,"values":[3,2.5,2,1.5,1,0.5,0],"format":".4f","labelFontSize":10.5}},"color":{"field":"key","type":"nominal","scale":{"domain":["2024-01-31"],"range":["#8064A2"]},"legend":{"legendX":282,"legendY":36.2,"symbolType":"M-1.47,0H1.47"}}}},
{"transform":[{"fold":["2024-01-30","2024-01-23"]}],"mark":{"type":"line","strokeWidth":2.2},"encoding":{"y":{"field":"value","type":"quantitative","scale":{"domain":[0,3],"range":[251.7,39],"nice":false},"axis":null},"stroke":{"field":"key","type":"nominal","scale":{"domain":["2024-01-30","2024-01-23"],"range":["#C0691F","#1F6F7E"]},"legend":{"legendX":88.7,"legendY":51.8,"columnPadding":8,"symbolType":"M-1.47,0H1.47"}}}}
]},
{"width":431,"height":250,"title":{"text":"国债到期收益率曲线SHIBOR系列","offset":-31},"resolve":{"scale":{"y":"independent"}},
"data":{"values":[{"c":"国债6月","日变动":2.1,"周变动":-15.1,"2024-01-31":1.89,"2024-01-30":1.866,"2024-01-23":2.04},{"c":"国债1年","日变动":-0.2,"周变动":-19.5,"2024-01-31":1.878,"2024-01-30":1.866,"2024-01-23":2.07},{"c":"国债2年","日变动":1.2,"周变动":-12.3,"2024-01-31":2.115,"2024-01-30":2.10,"2024-01-23":2.24},{"c":"国债3年","日变动":1.2,"周变动":-10.75,"2024-01-31":2.195,"2024-01-30":2.177,"2024-01-23":2.294},{"c":"国债4年","日变动":0.5,"周变动":-10.75,"2024-01-31":2.233,"2024-01-30":2.23,"2024-01-23":2.335},{"c":"国债5年","日变动":-0.2,"周变动":-10.75,"2024-01-31":2.28,"2024-01-30":2.276,"2024-01-23":2.386},{"c":"国债6年","日变动":-1.2,"周变动":-10,"2024-01-31":2.36,"2024-01-30":2.354,"2024-01-23":2.457},{"c":"国债7年","日变动":-2,"周变动":-9,"2024-01-31":2.414,"2024-01-30":2.43,"2024-01-23":2.50},{"c":"国债8年","日变动":-3.2,"周变动":-8.6,"2024-01-31":2.42,"2024-01-30":2.44,"2024-01-23":2.50},{"c":"国债9年","日变动":-3.5,"周变动":-8.2,"2024-01-31":2.42,"2024-01-30":2.45,"2024-01-23":2.50},{"c":"国债10年","日变动":-3.9,"周变动":-8,"2024-01-31":2.42,"2024-01-30":2.46,"2024-01-23":2.50}]},
"encoding":{"x":{"field":"c","type":"nominal","sort":null,"scale":{"type":"band","domain":["国债6月","国债1年","国债2年","国债3年","国债4年","国债5年","国债6年","国债7年","国债8年","国债9年","国债10年"],"range":[33.3,381.7],"paddingInner":0.5,"paddingOuter":0.25},"axis":{"title":null,"orient":"bottom","offset":-176,"labelAngle":-45,"labelAlign":"right","labelBaseline":"middle","labelPadding":14,"zindex":1,"labelFontSize":10}}},
"layer":[
{"transform":[{"fold":["日变动"]}],"mark":{"type":"bar","width":7.5,"xOffset":-5},"encoding":{"y":{"field":"value","type":"quantitative","stack":null,"scale":{"domain":[-25,5],"range":[252.3,39],"nice":false},"axis":{"title":null,"orient":"left","offset":-33.3,"labelPadding":7,"grid":true,"values":[5,0,-5,-10,-15,-20,-25],"labelExpr":"toString(datum.value)","labelFontSize":10.5}},"fill":{"field":"key","type":"nominal","scale":{"domain":["日变动","周变动"],"range":["#F79646","#4BACC6"]},"legend":{"legendX":82,"legendY":34.5,"columnPadding":33,"symbolType":"M-1.47,-.35H1.47V.35H-1.47Z"}}}},
{"transform":[{"fold":["周变动"]}],"mark":{"type":"bar","width":7,"xOffset":3.5},"encoding":{"y":{"field":"value","type":"quantitative","stack":null,"scale":{"domain":[-25,5],"range":[252.3,39],"nice":false},"axis":null},"fill":{"field":"key","type":"nominal","scale":{"domain":["日变动","周变动"],"range":["#F79646","#4BACC6"]},"legend":{"legendX":82,"legendY":34.5,"columnPadding":33,"symbolType":"M-1.47,-.35H1.47V.35H-1.47Z"}}}},
{"transform":[{"fold":["2024-01-31"]}],"mark":{"type":"line","strokeWidth":2.2},"encoding":{"y":{"field":"value","type":"quantitative","scale":{"domain":[1.5,2.7],"range":[252.3,39],"nice":false,"zero":false},"axis":{"title":null,"orient":"right","offset":-49.3,"labelPadding":8,"values":[2.7,2.5,2.3,2.1,1.9,1.7,1.5],"format":".4f","labelFontSize":10.5}},"color":{"field":"key","type":"nominal","scale":{"domain":["2024-01-31"],"range":["#8064A2"]},"legend":{"legendX":271,"legendY":34.5,"symbolType":"M-1.47,0H1.47"}}}},
{"transform":[{"fold":["2024-01-30","2024-01-23"]}],"mark":{"type":"line","strokeWidth":2.2},"encoding":{"y":{"field":"value","type":"quantitative","scale":{"domain":[1.5,2.7],"range":[252.3,39],"nice":false,"zero":false},"axis":null},"stroke":{"field":"key","type":"nominal","scale":{"domain":["2024-01-30","2024-01-23"],"range":["#C0691F","#1F6F7E"]},"legend":{"legendX":82,"legendY":53.5,"columnPadding":6,"symbolType":"M-1.47,0H1.47"}}}}
]}
],"spacing":-3,"resolve":{"scale":{"fill":"independent","stroke":"independent","color":"independent"},"legend":{"fill":"independent","stroke":"independent","color":"independent"}}}
]}
